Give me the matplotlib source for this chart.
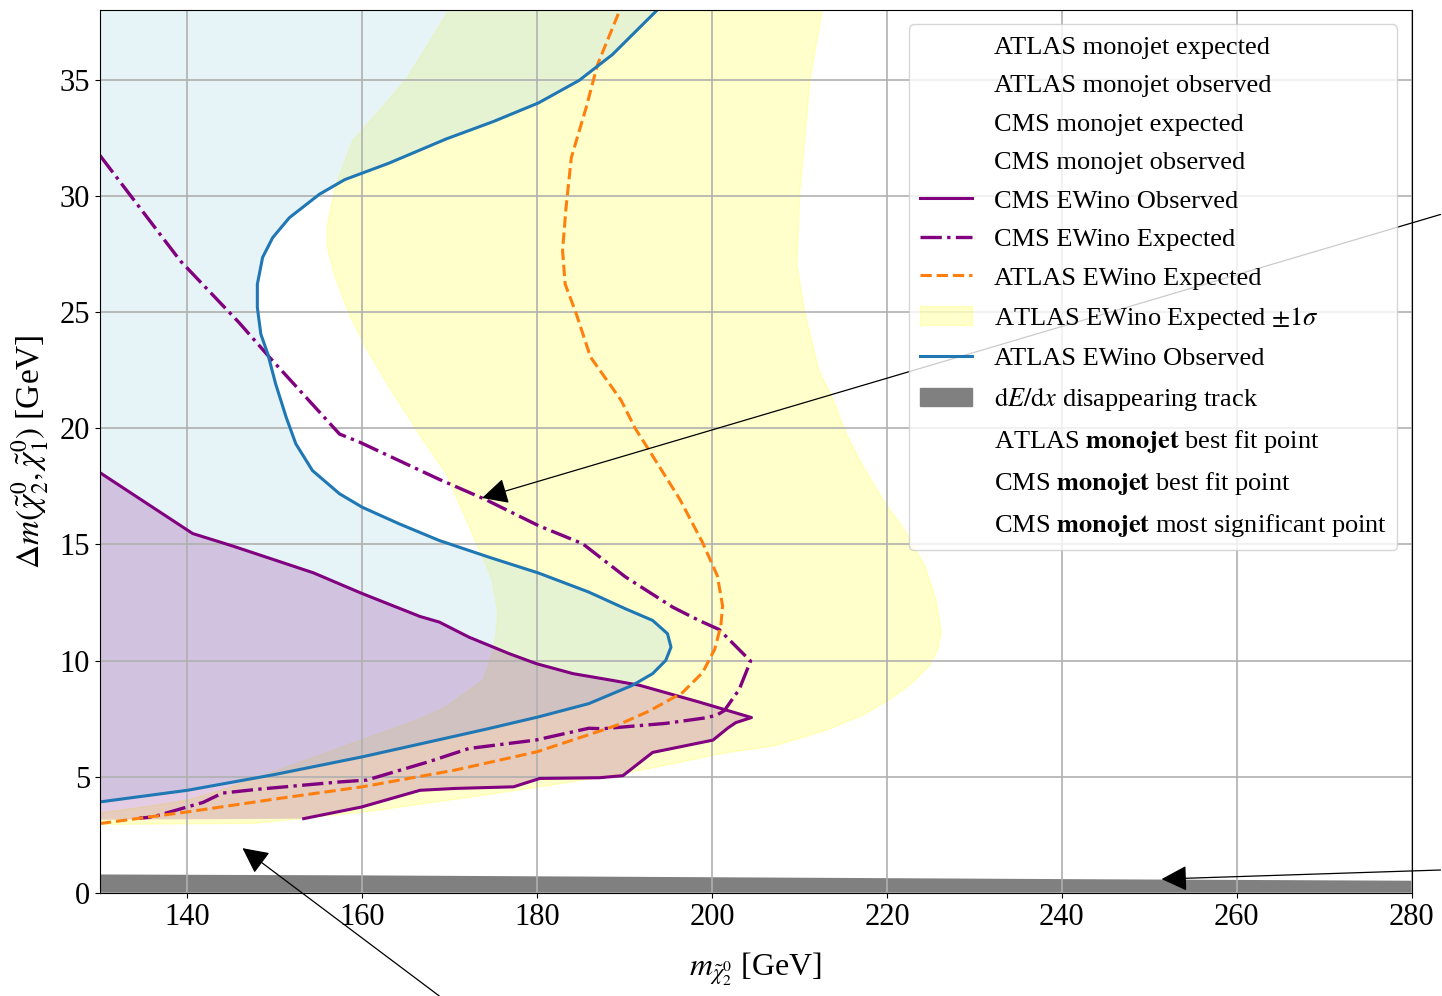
import numpy as np
import matplotlib.pyplot as plt
from matplotlib.lines import Line2D
from matplotlib.patches import Patch

plt.rcParams['font.family'] = 'serif'
plt.rcParams['font.serif'] = ['Liberation Serif', 'DejaVu Serif']
plt.rcParams['mathtext.fontset'] = 'stix'

# ATLAS EWino expected +-1 sigma band, closed contour
band_x = [169.9, 167.5, 165.0, 161.9, 158.9, 157.0, 156.0, 156.0, 156.8, 158.5, 160.4,
          163.1, 166.5, 169.6, 172.6, 174.9, 175.5, 175.1, 173.8, 169.5, 166.0, 160.0,
          154.5, 149.3, 144.5, 140.1, 135.0, 130.0, 125.0,
          125.0, 130.0, 147.7, 160.5, 170.0, 180.0, 190.0, 196.0, 201.0, 207.3, 213.0,
          217.2, 220.3, 222.9, 224.8, 225.8, 226.2, 225.6, 224.3, 222.2, 219.5, 217.2,
          215.3, 213.8, 212.2, 210.6, 209.7, 210.0, 211.2, 212.6, 212.8, 169.9]
band_y = [38.0, 36.5, 35.0, 33.65, 32.36, 30.5, 28.78, 27.77, 26.63, 24.91, 23.48,
          21.76, 19.75, 18.04, 15.46, 13.45, 12.02, 10.58, 9.15, 8.0, 7.4, 6.6,
          5.85, 5.14, 4.5, 4.0, 3.7, 3.45, 3.3,
          2.95, 2.95, 3.0, 3.5, 4.0, 4.55, 5.15, 5.6, 6.0, 6.35, 7.0,
          7.65, 8.33, 9.05, 9.77, 10.5, 11.2, 12.6, 14.1, 15.5, 16.95, 18.4,
          19.8, 21.26, 22.5, 25.0, 27.0, 30.0, 35.0, 38.0, 38.5, 38.5]

# ATLAS EWino observed contour
atlas_obs_x = [130.0, 140.0, 150.0, 160.0, 170.6, 174.5, 180.15, 185.9, 190.9, 193.2, 194.7,
               195.3, 194.9, 193.2, 190.1, 185.9, 180.15, 174.5, 168.8, 164.2, 160.0, 157.4,
               154.3, 152.4, 151.3, 150.1, 149.2, 148.4, 148.0, 148.0, 148.6, 149.75,
               151.66, 155.1, 158.0, 163.0, 169.6, 175.0, 180.15, 184.8, 188.6, 193.6, 195.0]
atlas_obs_y = [3.92, 4.42, 5.1, 5.86, 6.75, 7.08, 7.58, 8.15, 8.94, 9.44, 10.01,
               10.58, 11.16, 11.73, 12.23, 12.95, 13.77, 14.45, 15.17, 15.89, 16.6, 17.18,
               18.18, 19.33, 20.47, 21.9, 23.19, 24.05, 25.2, 26.2, 27.35, 28.2,
               29.06, 30.07, 30.7, 31.4, 32.45, 33.2, 34.0, 34.97, 36.08, 37.95, 38.5]

# ATLAS EWino expected
atlas_exp_x = [130.0, 140.0, 150.3, 160.0, 170.6, 180.0, 187.4, 189.4, 192.8, 196.6, 198.9,
               200.3, 201.0, 201.2, 200.6, 198.9, 196.3, 192.8, 191.2, 189.6, 186.1, 184.4,
               183.2, 182.9, 183.3, 183.9, 185.6, 186.9, 189.4, 189.6]
atlas_exp_y = [2.99, 3.49, 4.06, 4.57, 5.29, 6.08, 7.0, 7.26, 7.83, 8.62, 9.48,
               10.49, 11.5, 12.36, 13.65, 15.09, 16.95, 19.05, 20.0, 21.2, 23.06, 25.0,
               26.2, 27.65, 29.5, 31.64, 33.8, 35.65, 37.95, 38.5]

# CMS EWino observed
cms_obs_x = [130.0, 140.6, 145.2, 154.4, 159.9, 166.6, 168.8, 172.2, 176.8, 179.9, 184.1,
             188.6, 191.7, 198.5, 204.5, 202.7, 201.8, 200.1, 193.2, 189.8, 187.1, 180.3,
             177.3, 170.6, 166.6, 159.9, 153.3]
cms_obs_y = [18.09, 15.47, 14.93, 13.78, 12.9, 11.9, 11.66, 11.01, 10.3, 9.87, 9.44,
             9.15, 8.94, 8.22, 7.55, 7.33, 7.1, 6.58, 6.05, 5.05, 4.96, 4.93,
             4.57, 4.5, 4.42, 3.7, 3.2]

# CMS EWino expected
cms_exp_x = [130.0, 139.2, 145.9, 149.4, 157.4, 159.7, 168.8, 174.1, 180.2, 185.2, 190.1,
             195.5, 198.5, 200.8, 204.4, 203.1, 201.4, 200.5, 199.3, 194.7, 187.5, 185.9,
             179.8, 172.2, 167.6, 160.5, 157.4, 148.2, 144.0, 141.8, 136.0, 134.5]
cms_exp_y = [31.74, 27.2, 24.55, 23.05, 19.75, 19.4, 17.8, 16.93, 15.8, 15.03, 13.6,
             12.3, 11.73, 11.34, 9.98, 8.76, 7.85, 7.65, 7.54, 7.3, 7.07, 7.09,
             6.58, 6.22, 5.65, 4.86, 4.78, 4.47, 4.3, 3.9, 3.27, 3.22]

# dE/dx disappearing track exclusion
track_x = [130, 160, 200, 240, 280]
track_y = [0.82, 0.78, 0.7, 0.62, 0.55]

fig = plt.figure(figsize=(14.42, 9.96), dpi=100)
ax = fig.add_axes([0.0693, 0.1034, 0.9097, 0.8866])

ax.fill(band_x, band_y, color='yellow', alpha=0.2, lw=1)
ax.fill(atlas_obs_x + [120, 120], atlas_obs_y + [38.5, atlas_obs_y[0]],
        color='lightblue', alpha=0.3, lw=0)
ax.fill([128] + cms_obs_x + [128], [cms_obs_y[0]] + cms_obs_y + [3.15],
        color='purple', alpha=0.2, lw=0)
ax.fill_between(track_x, 0, track_y, color='gray', lw=0)

ax.plot(cms_obs_x, cms_obs_y, color='purple', lw=2.2)
ax.plot(cms_exp_x, cms_exp_y, color='purple', lw=2.4, ls='-.')
ax.plot(atlas_exp_x, atlas_exp_y, color='tab:orange', lw=2.2, ls='--')
ax.plot(atlas_obs_x, atlas_obs_y, color='tab:blue', lw=2.2)

ax.set_xlim(130, 280)
ax.set_ylim(0, 38)
ax.set_xticks(np.arange(140, 281, 20))
ax.set_yticks(np.arange(0, 36, 5))
ax.tick_params(labelsize=22)
ax.grid(True, color='#b0b0b0', lw=1.2)
ax.set_xlabel(r'$m_{\tilde{\chi}_2^0}$ [GeV]', fontsize=23, labelpad=14)
ax.set_ylabel(r'$\Delta m(\tilde{\chi}_2^0,\tilde{\chi}_1^0)$ [GeV]', fontsize=24, labelpad=6)

# arrows pointing at the fit points, tails run off the page
arrow = dict(arrowstyle='-|>', color='black', lw=0.9, mutation_scale=40, shrinkA=0, shrinkB=0)
ax.annotate('', xy=(173.7, 17.0), xytext=(283.3, 29.2), arrowprops=arrow, annotation_clip=False)
ax.annotate('', xy=(146.3, 1.93), xytext=(168.8, -4.43), arrowprops=arrow, annotation_clip=False)
ax.annotate('', xy=(251.4, 0.6), xytext=(283.3, 0.99), arrowprops=arrow, annotation_clip=False)

blank = Line2D([], [], color='none')
handles = [blank, blank, blank, blank,
           Line2D([], [], color='purple', lw=2.2),
           Line2D([], [], color='purple', lw=2.4, ls='-.'),
           Line2D([], [], color='tab:orange', lw=2.2, ls='--'),
           Patch(color='yellow', alpha=0.2),
           Line2D([], [], color='tab:blue', lw=2.2),
           Patch(color='gray'),
           blank, blank, blank]
labels = ['ATLAS monojet expected', 'ATLAS monojet observed',
          'CMS monojet expected', 'CMS monojet observed',
          'CMS EWino Observed', 'CMS EWino Expected', 'ATLAS EWino Expected',
          r'ATLAS EWino Expected $\pm 1\sigma$', 'ATLAS EWino Observed',
          r'$\mathrm{d}E/\mathrm{d}x$ disappearing track',
          r'ATLAS $\mathbf{monojet}$ best fit point',
          r'CMS $\mathbf{monojet}$ best fit point',
          r'CMS $\mathbf{monojet}$ most significant point']
ax.legend(handles, labels, loc='upper right', fontsize=19, labelspacing=0.57,
          borderaxespad=0.55)

fig.savefig('out.png', dpi=100)
